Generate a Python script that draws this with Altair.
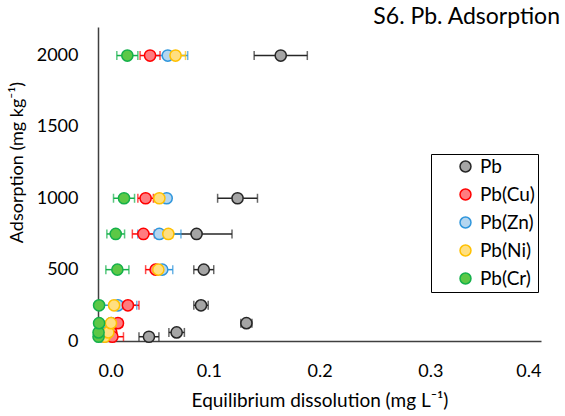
import altair as alt
import pandas as pd

series = ["Pb", "Pb(Cu)", "Pb(Zn)", "Pb(Ni)", "Pb(Cr)"]
adsorption = [30, 60, 125, 250, 500, 750, 1000, 2000]

pb_x = [0.046, 0.071, 0.134, 0.093, 0.0955, 0.089, 0.126, 0.165]
pb_err = [0.009, 0.007, 0.005, 0.0065, 0.009, 0.032, 0.018, 0.024]
cu_x = [0.013, 0.012, 0.018, 0.027, 0.052, 0.041, 0.043, 0.047]
cu_err = [0.010, 0.004, 0.004, 0.010, 0.009, 0.010, 0.007, 0.009]
zn_x = [0.005, 0.008, 0.012, 0.018, 0.058, 0.0554, 0.062, 0.063]
zn_err = [0.002, 0.002, 0.003, 0.017, 0.0095, 0.0195, 0.003, 0.018]
ni_x = [0.006, 0.0093, 0.0117, 0.0145, 0.0545, 0.0635, 0.0554, 0.070]
ni_err = [0.002, 0.002, 0.003, 0.003, 0.004, 0.004, 0.004, 0.009]
cr_x = [0.0005, 0.0005, 0.001, 0.001, 0.0175, 0.016, 0.0235, 0.0265]
cr_err = [0.001, 0.001, 0.001, 0.001, 0.0104, 0.008, 0.0095, 0.0095]

fill_colors = ["#a5a5a5", "#ff7c80", "#b4d6f0", "#ffdf80", "#5cc846"]
stroke_colors = ["#262626", "#ff0000", "#2f96dc", "#ffc000", "#14b04a"]
draw_order = [0, 2, 1, 3, 4]

rows = []
for name, xs, es, o in zip(series, [pb_x, cu_x, zn_x, ni_x, cr_x],
                           [pb_err, cu_err, zn_err, ni_err, cr_err], draw_order):
    for y, x, e in zip(adsorption, xs, es):
        rows.append({"series": name, "bar_series": name, "y": y, "x": x,
                     "lo": x - e, "hi": x + e, "ord": o})
df = pd.DataFrame(rows).sort_values("ord").reset_index(drop=True)

FONT = "Lato"
xscale = alt.Scale(domain=[0, 0.4], nice=False, zero=True)
yscale = alt.Scale(domain=[0, 2200], nice=False)
fill_scale = alt.Scale(domain=series, range=fill_colors)
stroke_scale = alt.Scale(domain=series, range=stroke_colors)

x_axis = alt.Axis(
    values=[0, 0.1, 0.2, 0.3, 0.4], format=".1f", grid=False, ticks=False,
    domainColor="#404040", domainWidth=1.5, labelFontSize=18, labelFont=FONT,
    labelColor="#000000", labelPadding=21,
    title="Equilibrium dissolution (mg L\u207b\u00b9)", titleFont=FONT,
    titleFontSize=19, titleFontWeight="normal", titleColor="#000000",
    titleX=221.5, titleY=59, titleBaseline="middle", titleAnchor="middle")
y_axis = alt.Axis(
    values=[0, 500, 1000, 1500, 2000], format="d", grid=False, ticks=False,
    domainColor="#404040", domainWidth=1.5, labelFontSize=18, labelFont=FONT,
    labelColor="#000000", labelPadding=20,
    title="Adsorption (mg kg\u207b\u00b9)", titleFont=FONT, titleFontSize=18,
    titleFontWeight="normal", titleColor="#000000", titleX=-81, titleY=135,
    titleAngle=-90, titleBaseline="middle", titleAlign="center")

legend = alt.Legend(title=None, orient="none", legendX=333, legendY=127,
                    strokeColor="#000000", padding=3, symbolOffset=22,
                    labelFont=FONT, labelFontSize=19, labelColor="#000000",
                    symbolType="circle", symbolSize=120, symbolStrokeWidth=1.5,
                    rowPadding=8, labelOffset=5)

base = alt.Chart(df)
Y = alt.Y("y:Q", scale=yscale, axis=y_axis)
bar_color = alt.Color("bar_series:N", scale=stroke_scale, legend=None)

rules = base.mark_rule(strokeWidth=1.5).encode(
    x=alt.X("lo:Q", scale=xscale, axis=x_axis), x2="hi:Q", y=Y, color=bar_color)
cap_lo = base.mark_tick(orient="vertical", size=9, thickness=1.5).encode(
    x=alt.X("lo:Q", scale=xscale, axis=x_axis), y=Y, color=bar_color)
cap_hi = base.mark_tick(orient="vertical", size=9, thickness=1.5).encode(
    x=alt.X("hi:Q", scale=xscale, axis=x_axis), y=Y, color=bar_color)

points = base.mark_circle(size=125, strokeWidth=1.5, opacity=1).encode(
    x=alt.X("x:Q", scale=xscale, axis=x_axis), y=Y,
    fill=alt.Fill("series:N", scale=fill_scale, legend=legend, sort=series),
    stroke=alt.Stroke("series:N", scale=stroke_scale, legend=legend, sort=series),
    order=alt.Order("ord:Q"))

chart = alt.layer(rules, cap_lo, cap_hi, points).resolve_scale(
    color="independent").properties(
    width=443, height=314,
    autosize=alt.AutoSizeParams(type="none"),
    padding={"left": 98, "top": 27, "right": 24, "bottom": 75},
    title=alt.TitleParams("S6. Pb. Adsorption", anchor="end", font=FONT,
                          fontSize=23, fontWeight="normal", color="#000000",
                          dx=19, dy=25, offset=0, baseline="bottom"),
).configure(background="#ffffff").configure_view(stroke=None)

chart.save("out.html", embed_options={"renderer": "svg", "actions": False})
